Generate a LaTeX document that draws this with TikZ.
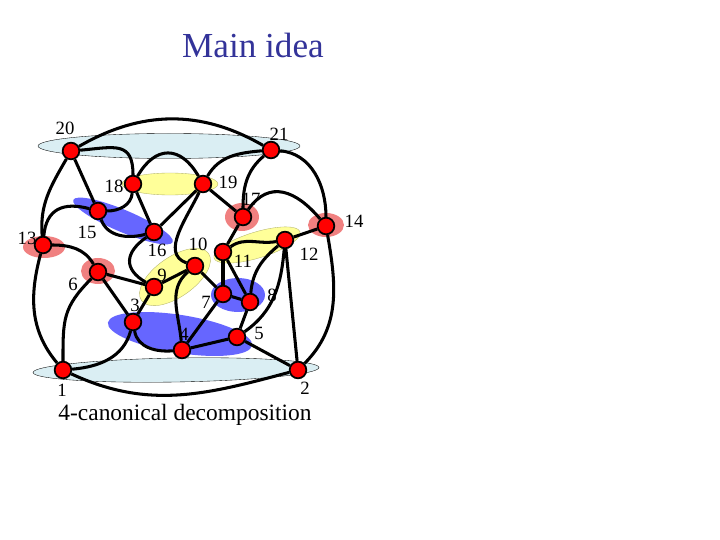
\documentclass[tikz,border=0pt]{standalone}
\usepackage{fontspec}
\setmainfont{Liberation Serif}
\definecolor{titleblue}{HTML}{333399}
\definecolor{setcyan}{HTML}{DAEEF3}
\definecolor{setyellow}{HTML}{FFFF99}
\definecolor{setblue}{HTML}{6666FF}
\definecolor{setred}{HTML}{F08080}
\definecolor{vtxred}{HTML}{FF0000}

\begin{document}
\begin{tikzpicture}[
  x=0.03cm, y=0.03cm,
  vtx/.style={
    circle, draw=black, fill=vtxred, line width=1.5pt,
    minimum size=0.5cm, inner sep=0pt
  },
  edge/.style={line width=2.6pt},
  lbl/.style={font=\fontsize{16}{18}\selectfont, inner sep=0pt},
  part/.style={draw=black, line width=0.3pt},
]
  \useasboundingbox (0,0) rectangle (720,-540);

  \node[font=\fontsize{30}{36}\selectfont, text=titleblue] (title) at (253,-45) {Main idea};
  \node[font=\fontsize{20}{24}\selectfont] (caption) at (185,-415) {4-canonical decomposition};

  \filldraw[part, fill=setcyan] (169,-146) ellipse [x radius=131, y radius=12.5];
  \filldraw[part, fill=setcyan, rotate around={1:(176,-370)}] (176,-370) ellipse [x radius=143, y radius=12];
  \filldraw[part, draw=setyellow!70!black, fill=setyellow] (170,-184) ellipse [x radius=48, y radius=11];
  \fill[setblue, rotate around={-23:(123,-221)}] (123,-221) ellipse [x radius=54, y radius=11];
  \fill[setred] (44,-247) ellipse [x radius=21, y radius=11];
  \fill[setred] (98,-271) ellipse [x radius=17, y radius=13];
  \fill[setred] (242,-217) ellipse [x radius=17, y radius=14];
  \fill[setred] (326,-225) ellipse [x radius=18, y radius=12];
  \filldraw[part, draw=setyellow!70!black, fill=setyellow, rotate around={35:(175,-277)}] (175,-277) ellipse [x radius=41, y radius=20];
  \filldraw[part, draw=setyellow!70!black, fill=setyellow, rotate around={17:(257,-245)}] (257,-245) ellipse [x radius=45, y radius=13];
  \fill[setblue] (238,-295) ellipse [x radius=27, y radius=17];
  \fill[setblue, rotate around={-9:(180,-334)}] (180,-334) ellipse [x radius=73, y radius=19];

  \node[vtx] (v1)  at (63,-370)  {};
  \node[vtx] (v2)  at (298,-370) {};
  \node[vtx] (v3)  at (133,-322) {};
  \node[vtx] (v4)  at (182,-350) {};
  \node[vtx] (v5)  at (237,-337) {};
  \node[vtx] (v6)  at (98,-272)  {};
  \node[vtx] (v7)  at (223,-294) {};
  \node[vtx] (v8)  at (250,-302) {};
  \node[vtx] (v9)  at (154,-287) {};
  \node[vtx] (v10) at (195,-266) {};
  \node[vtx] (v11) at (223,-252) {};
  \node[vtx] (v12) at (285,-240) {};
  \node[vtx] (v13) at (43,-245)  {};
  \node[vtx] (v14) at (326,-226) {};
  \node[vtx] (v15) at (98,-211)  {};
  \node[vtx] (v16) at (154,-232) {};
  \node[vtx] (v17) at (243,-217) {};
  \node[vtx] (v18) at (133,-184) {};
  \node[vtx] (v19) at (203,-184) {};
  \node[vtx] (v20) at (71,-151)  {};
  \node[vtx] (v21) at (271,-150) {};

  \node[lbl] (l1)  at (62,-390)  {1};
  \node[lbl] (l2)  at (305,-388) {2};
  \node[lbl] (l3)  at (135,-305) {3};
  \node[lbl] (l4)  at (184,-334) {4};
  \node[lbl] (l5)  at (259,-333) {5};
  \node[lbl] (l6)  at (73,-284)  {6};
  \node[lbl] (l7)  at (206,-302) {7};
  \node[lbl] (l8)  at (272,-295) {8};
  \node[lbl] (l9)  at (162,-275) {9};
  \node[lbl] (l10) at (198,-244) {10};
  \node[lbl] (l11) at (243,-261) {11};
  \node[lbl] (l12) at (309,-254) {12};
  \node[lbl] (l13) at (27,-238)  {13};
  \node[lbl] (l14) at (354,-221) {14};
  \node[lbl] (l15) at (87,-232)  {15};
  \node[lbl] (l16) at (157,-250) {16};
  \node[lbl] (l17) at (251,-199) {17};
  \node[lbl] (l18) at (114,-186) {18};
  \node[lbl] (l19) at (228,-182) {19};
  \node[lbl] (l20) at (65,-128)  {20};
  \node[lbl] (l21) at (279,-134) {21};

  \draw[edge] (v20) to[out=30, in=150] (v21);
  \draw[edge] (v20) to[out=5, in=90, looseness=1.5] (v18);
  \draw[edge] (v20) -- (v15);
  \draw[edge] (v20) to[out=240, in=95] (v13);
  \draw[edge] (v21) to[out=185, in=60] (v19);
  \draw[edge] (v21) to[out=220, in=90] (v17);
  \draw[edge] (v21) to[out=-5, in=90] (v14);
  \draw[edge] (v18) to[out=60, in=120, looseness=1.5] (v19);
  \draw[edge] (v19) -- (v17);
  \draw[edge] (v19) -- (v16);
  \draw[edge] (v19) to[out=245, in=160] (v10);
  \draw[edge] (v10) to[out=220, in=95] (v4);
  \draw[edge] (v18) to[out=265, in=0] (v15);
  \draw[edge] (v15) to[out=290, in=195] (v16);
  \draw[edge] (v18) -- (v16);
  \draw[edge] (v16) to[out=215, in=150, looseness=1.5] (v9);
  \draw[edge] (v13) to[out=85, in=165, looseness=1.3] (v15);
  \draw[edge] (v13) to[out=0, in=120] (v6);
  \draw[edge] (v13) to[out=255, in=130] (v1);
  \draw[edge] (v6) to[out=225, in=90, looseness=1.2] (v1);
  \draw[edge] (v6) -- (v9);
  \draw[edge] (v6) -- (v3);
  \draw[edge] (v1) to[out=5, in=255] (v3);
  \draw[edge] (v1) to[out=-25, in=195] (v2);
  \draw[edge] (v3) -- (v9);
  \draw[edge] (v3) to[out=280, in=185] (v4);
  \draw[edge] (v4) -- (v5);
  \draw[edge] (v4) -- (v7);
  \draw[edge] (v5) -- (v2);
  \draw[edge] (v5) -- (v8);
  \draw[edge] (v5) to[out=35, in=265] (v12);
  \draw[edge] (v8) to[out=85, in=220] (v12);
  \draw[edge] (v11) to[out=35, in=190] (v12);
  \draw[edge] (v11) -- (v7);
  \draw[edge] (v11) -- (v8);
  \draw[edge] (v11) -- (v17);
  \draw[edge] (v7) -- (v8);
  \draw[edge] (v7) -- (v10);
  \draw[edge] (v12) -- (v14);
  \draw[edge] (v12) -- (v2);
  \draw[edge] (v14) to[out=280, in=45] (v2);
  \draw[edge] (v17) to[out=55, in=130, looseness=1.3] (v14);
  \draw[edge] (v9) -- (v10);
\end{tikzpicture}
\end{document}
